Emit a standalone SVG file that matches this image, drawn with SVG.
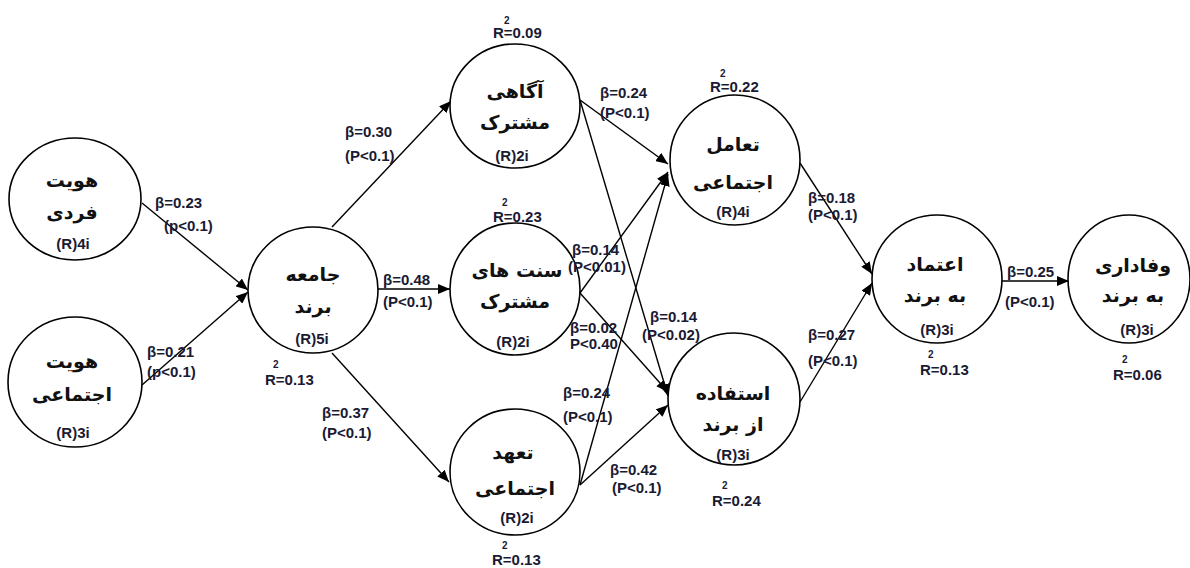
<svg xmlns="http://www.w3.org/2000/svg" width="1190" height="568" viewBox="0 0 1190 568">
<defs>
<marker id="arr" markerUnits="userSpaceOnUse" markerWidth="12" markerHeight="10" refX="12" refY="5" orient="auto">
<path d="M0,0 L12,5 L0,10 z" fill="#000"/>
</marker>
<style>
.node ellipse{fill:#fff;stroke:#000;stroke-width:1.6}
.fa{font-family:"DejaVu Sans",sans-serif;font-weight:bold;font-size:19px;fill:#111;text-anchor:middle}
.ri{font-family:"Liberation Sans",Arial,sans-serif;font-weight:bold;font-size:15px;fill:#1a1a33;text-anchor:middle}
.lb{font-family:"Liberation Sans",Arial,sans-serif;font-weight:bold;font-size:15px;fill:#1a1a33}
.sup{font-family:"Liberation Sans",Arial,sans-serif;font-weight:bold;font-size:10px;fill:#1a1a33}
#edges line{stroke:#000;stroke-width:1.4;marker-end:url(#arr)}
</style>
</defs>
<rect width="1190" height="568" fill="#fff"/>
<g id="edges">
<line x1="142" y1="203" x2="248" y2="290"/>
<line x1="142" y1="385" x2="248" y2="292"/>
<line x1="332" y1="227" x2="451" y2="101"/>
<line x1="378" y1="289" x2="450" y2="289"/>
<line x1="332" y1="353" x2="449" y2="482"/>
<line x1="580" y1="100" x2="668" y2="164"/>
<line x1="580" y1="100" x2="668" y2="396"/>
<line x1="580" y1="293" x2="668" y2="172"/>
<line x1="580" y1="293" x2="668" y2="392"/>
<line x1="580" y1="485" x2="668" y2="174"/>
<line x1="580" y1="485" x2="668" y2="405"/>
<line x1="800" y1="163" x2="872" y2="274"/>
<line x1="800" y1="402" x2="872" y2="283"/>
<line x1="1002" y1="281" x2="1069" y2="281"/>
</g>
<g id="n1" class="node"><ellipse cx="75" cy="199" rx="66" ry="61"/>
<text class="fa" x="72" y="187">هویت</text><text class="fa" x="72" y="219">فردی</text><text class="ri" x="73" y="249">(R)4i</text></g>
<g id="n2" class="node"><ellipse cx="75" cy="382" rx="67" ry="65"/>
<text class="fa" x="72" y="368">هویت</text><text class="fa" x="72" y="401">اجتماعی</text><text class="ri" x="73" y="438">(R)3i</text></g>
<g id="n3" class="node"><ellipse cx="313" cy="290" rx="65" ry="63"/>
<text class="fa" x="313" y="281">جامعه</text><text class="fa" x="313" y="313">برند</text><text class="ri" x="312" y="344">(R)5i</text></g>
<g id="n4" class="node"><ellipse cx="515" cy="106" rx="65" ry="62"/>
<text class="fa" x="515" y="98">آگاهی</text><text class="fa" x="515" y="129">مشترک</text><text class="ri" x="512" y="161">(R)2i</text></g>
<g id="n5" class="node"><ellipse cx="515" cy="289" rx="65" ry="66"/>
<text class="fa" x="517" y="277">سنت های</text><text class="fa" x="515" y="308">مشترک</text><text class="ri" x="513" y="347">(R)2i</text></g>
<g id="n6" class="node"><ellipse cx="515" cy="472" rx="65" ry="63"/>
<text class="fa" x="513" y="459">تعهد</text><text class="fa" x="515" y="495">اجتماعی</text><text class="ri" x="517" y="523">(R)2i</text></g>
<g id="n7" class="node"><ellipse cx="735" cy="160" rx="65" ry="65"/>
<text class="fa" x="733" y="151">تعامل</text><text class="fa" x="733" y="189">اجتماعی</text><text class="ri" x="733" y="217">(R)4i</text></g>
<g id="n8" class="node"><ellipse cx="734" cy="399" rx="66" ry="66"/>
<text class="fa" x="733" y="400">استفاده</text><text class="fa" x="733" y="431">از برند</text><text class="ri" x="733" y="460">(R)3i</text></g>
<g id="n9" class="node"><ellipse cx="937" cy="279" rx="65" ry="64"/>
<text class="fa" x="935" y="271">اعتماد</text><text class="fa" x="935" y="302">به برند</text><text class="ri" x="937" y="335">(R)3i</text></g>
<g id="n10" class="node"><ellipse cx="1129" cy="279" rx="61" ry="64"/>
<text class="fa" x="1133" y="272">وفاداری</text><text class="fa" x="1133" y="302">به برند</text><text class="ri" x="1137" y="335">(R)3i</text></g>
<g id="labels">
<text class="lb" x="155" y="208">β=0.23</text><text class="lb" x="164" y="231">(p&lt;0.1)</text>
<text class="lb" x="147" y="357">β=0.21</text><text class="lb" x="147" y="377">(p&lt;0.1)</text>
<text class="lb" x="345" y="137">β=0.30</text><text class="lb" x="345" y="161">(P&lt;0.1)</text>
<text class="lb" x="383" y="285">β=0.48</text><text class="lb" x="383" y="307">(P&lt;0.1)</text>
<text class="lb" x="322" y="418">β=0.37</text><text class="lb" x="322" y="438">(P&lt;0.1)</text>
<text class="lb" x="600" y="98">β=0.24</text><text class="lb" x="600" y="118">(P&lt;0.1)</text>
<text class="lb" x="572" y="255">β=0.14</text><text class="lb" x="568" y="272">(P&lt;0.01)</text>
<text class="lb" x="570" y="333">β=0.02</text><text class="lb" x="570" y="349">P&lt;0.40</text>
<text class="lb" x="650" y="322">β=0.14</text><text class="lb" x="642" y="340">(P&lt;0.02)</text>
<text class="lb" x="563" y="398">β=0.24</text><text class="lb" x="563" y="422">(P&lt;0.1)</text>
<text class="lb" x="610" y="475">β=0.42</text><text class="lb" x="612" y="493">(P&lt;0.1)</text>
<text class="lb" x="808" y="203">β=0.18</text><text class="lb" x="808" y="220">(P&lt;0.1)</text>
<text class="lb" x="808" y="340">β=0.27</text><text class="lb" x="808" y="366">(P&lt;0.1)</text>
<text class="lb" x="1007" y="277">β=0.25</text><text class="lb" x="1005" y="307">(P&lt;0.1)</text>
<text class="lb" x="493" y="38">R=0.09</text><text class="sup" x="504" y="24">2</text>
<text class="lb" x="493" y="222">R=0.23</text><text class="sup" x="502" y="206">2</text>
<text class="lb" x="492" y="565">R=0.13</text><text class="sup" x="502" y="549">2</text>
<text class="lb" x="265" y="385">R=0.13</text><text class="sup" x="273" y="368">2</text>
<text class="lb" x="710" y="92">R=0.22</text><text class="sup" x="720" y="77">2</text>
<text class="lb" x="712" y="506">R=0.24</text><text class="sup" x="722" y="489">2</text>
<text class="lb" x="920" y="375">R=0.13</text><text class="sup" x="928" y="358">2</text>
<text class="lb" x="1113" y="380">R=0.06</text><text class="sup" x="1122" y="363">2</text>
</g>
</svg>
